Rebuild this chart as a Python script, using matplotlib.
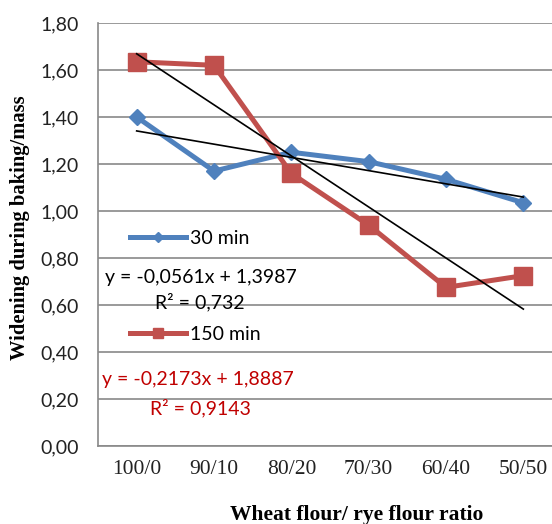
import numpy as np
import matplotlib
matplotlib.use('Agg')
import matplotlib.pyplot as plt
from matplotlib.legend import Legend

# data
ratios = ['100/0', '90/10', '80/20', '70/30', '60/40', '50/50']
min30 = [1.40, 1.17, 1.25, 1.21, 1.135, 1.035]
min150 = [1.635, 1.62, 1.16, 0.94, 0.675, 0.725]
yticks = [0.0, 0.2, 0.4, 0.6, 0.8, 1.0, 1.2, 1.4, 1.6, 1.8]

k_blue = '#4F81BD'
k_red = '#C0504D'
k_grid = '#898989'
k_sans = 'Lato'
k_serif = 'Liberation Serif'
k_sans_size = 14

W, H = 552, 524
fig = plt.figure(figsize=(W / 100, H / 100), dpi=100)
# axes runs past the right edge of the picture, like the reference
ax = fig.add_axes([98 / W, (H - 446) / H, 464 / W, 423 / H])

x = np.arange(len(ratios))
blue, = ax.plot(x, min30, color=k_blue, lw=3.6, marker='D', ms=8.5, label='30 min', zorder=3)
red, = ax.plot(x, min150, color=k_red, lw=3.6, marker='s', ms=13, label='150 min', zorder=3)

# linear trend lines (x counted 1..6 as in the spreadsheet)
xs = x + 1
for series in (min30, min150):
  k, b = np.polyfit(xs, series, 1)
  ax.plot(x, k * xs + b, color='black', lw=1.2, zorder=4)

ax.set_xlim(-0.5, 5.5)
ax.set_ylim(0, 1.8)
ax.set_yticks(yticks)
ax.set_yticklabels(['{0:.2f}'.format(v).replace('.', ',') for v in yticks],
                   fontfamily=k_sans, fontsize=k_sans_size, color='#222222')
ax.set_xticks(x)
ax.set_xticklabels(ratios, fontfamily=k_serif, fontsize=15.5, color='#222222')
ax.tick_params(axis='both', length=0)
ax.tick_params(axis='y', pad=14)
ax.tick_params(axis='x', pad=10)
ax.grid(axis='y', color=k_grid, lw=1.2)
ax.set_axisbelow(True)
for side in ['top', 'right']:
  ax.spines[side].set_visible(False)
for side in ['left', 'bottom']:
  ax.spines[side].set_color(k_grid)
  ax.spines[side].set_linewidth(1.2)

# two legend entries, split by the trend line labels
def add_entry(handle, y_pos):
  leg = Legend(ax, [handle], [handle.get_label()], loc='center left',
               bbox_to_anchor=((130 - 98) / 464, y_pos),
               frameon=False, borderpad=0, borderaxespad=0, handlelength=2.9,
               handletextpad=0.2, markerscale=0.6, numpoints=1,
               prop={'family': k_sans, 'size': k_sans_size})
  ax.add_artist(leg)

add_entry(blue, (446 - 238) / 423)
add_entry(red, (446 - 334) / 423)

eq_style = dict(fontfamily=k_sans, fontsize=k_sans_size, ha='center', va='center', transform=fig.transFigure)
fig.text(201 / W, 1 - 277 / H, 'y = -0,0561x + 1,3987', color='black', **eq_style)
fig.text(200 / W, 1 - 302 / H, 'R² = 0,732', color='black', **eq_style)
fig.text(198 / W, 1 - 380 / H, 'y = -0,2173x + 1,8887', color='#C00000', **eq_style)
fig.text(200 / W, 1 - 408 / H, 'R² = 0,9143', color='#C00000', **eq_style)

fig.text(357 / W, 1 - 515 / H, 'Wheat flour/ rye flour ratio', fontfamily=k_serif,
         fontweight='bold', fontsize=15.5, ha='center', va='center')
fig.text(20 / W, 1 - 228 / H, 'Widening during baking/mass', fontfamily=k_serif,
         fontweight='bold', fontsize=14.8, ha='center', va='center', rotation=90)

fig.savefig('out.png', dpi=100)
